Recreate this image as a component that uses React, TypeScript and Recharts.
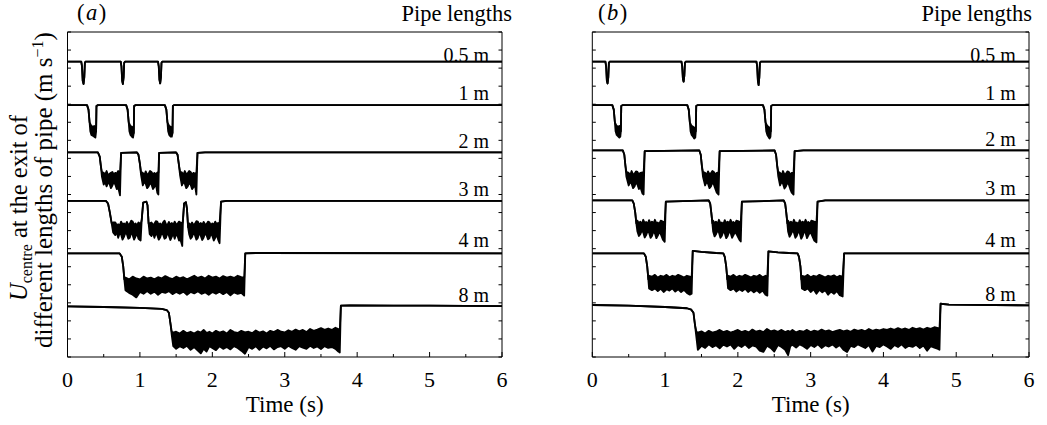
import React from 'react';
import { ComposedChart, Area, XAxis, YAxis, ReferenceDot } from 'recharts';

// [time (s), low, high] — high omitted where the trace is a thin line
type Pt = [number, number, number?];

const xTicks = [0, 0.5, 1, 1.5, 2, 2.5, 3, 3.5, 4, 4.5, 5, 5.5, 6];
const yTicks = [0, 1, 2, 3, 4, 5, 6, 7, 8, 9, 10, 11, 12, 13, 14, 15, 16, 17, 18];
const pipeNames = ['0.5 m', '1 m', '2 m', '3 m', '4 m', '8 m'];

// ---- panel (a)
const a05: Pt[] = [
  [0, 16.36], [0.19, 16.36], [0.2, 16.1], [0.21, 15.3], [0.222, 15.12], [0.232, 15.5], [0.24, 16.3], [0.25, 16.36],
  [0.735, 16.36], [0.745, 16.1], [0.755, 15.3], [0.765, 15.12], [0.775, 15.5], [0.783, 16.3], [0.795, 16.36],
  [1.25, 16.36], [1.26, 16.1], [1.27, 15.35], [1.28, 15.15], [1.29, 15.5], [1.298, 16.3], [1.31, 16.36],
  [6, 16.36],
];
const a1: Pt[] = [
  [0, 13.95], [0.27, 13.95], [0.29, 13.7], [0.305, 13.0], [0.315, 12.5, 12.9], [0.33, 12.3, 12.8], [0.35, 12.25, 12.75],
  [0.37, 12.2, 12.8], [0.385, 12.15, 12.7], [0.395, 12.5], [0.4, 13.9], [0.42, 13.95],
  [0.81, 13.95], [0.83, 13.7], [0.845, 13.0], [0.855, 12.5, 12.9], [0.87, 12.3, 12.8], [0.89, 12.2, 12.75],
  [0.905, 12.15, 12.7], [0.915, 12.4], [0.92, 13.9], [0.94, 13.95],
  [1.345, 13.95], [1.365, 13.7], [1.38, 13.0], [1.39, 12.5, 12.9], [1.405, 12.3, 12.8], [1.425, 12.2, 12.75],
  [1.44, 12.2, 12.7], [1.45, 12.4], [1.455, 13.9], [1.47, 13.95],
  [6, 13.95],
];
const a2: Pt[] = [
  [0, 11.33], [0.42, 11.33], [0.445, 11.1], [0.46, 10.6], [0.475, 10.0, 10.25],
  [0.5, 9.55, 10.2], [0.52, 9.7, 10.1], [0.54, 9.45, 10.3], [0.56, 9.65, 10.05], [0.58, 9.6, 10.15], [0.6, 9.35, 10.2],
  [0.62, 9.5, 10.25], [0.64, 9.7, 10.1], [0.66, 9.55, 10.2], [0.68, 9.3, 10.15], [0.7, 9.4, 10.3], [0.725, 8.95, 10.2],
  [0.74, 11.3], [0.96, 11.33], [0.98, 11.2], [1.0, 10.7], [1.015, 10.1, 10.25],
  [1.04, 9.5, 10.2], [1.06, 9.7, 10.05], [1.08, 9.6, 10.28], [1.1, 9.35, 10.1], [1.12, 9.45, 10.15], [1.14, 9.65, 10.3],
  [1.16, 9.55, 10.25], [1.18, 9.3, 10.1], [1.2, 9.42, 10.2], [1.22, 9.6, 10.12], [1.24, 9.1, 10.22], [1.255, 9.0, 10.2],
  [1.265, 11.3], [1.5, 11.33], [1.52, 11.2], [1.54, 10.6], [1.555, 10.05, 10.25],
  [1.58, 9.5, 10.22], [1.6, 9.68, 10.08], [1.62, 9.6, 10.3], [1.64, 9.35, 10.12], [1.66, 9.45, 10.18], [1.68, 9.65, 10.3],
  [1.7, 9.55, 10.25], [1.72, 9.3, 10.1], [1.74, 9.4, 10.2], [1.76, 9.55, 10.14], [1.78, 9.0, 10.22],
  [1.795, 11.3], [1.9, 11.33], [6, 11.33],
];
const a3: Pt[] = [
  [0, 8.65], [0.53, 8.65], [0.56, 8.5], [0.585, 8.0], [0.61, 7.4], [0.63, 6.9, 7.45],
  [0.66, 6.75, 7.45], [0.68, 6.95, 7.3], [0.7, 6.6, 7.35], [0.72, 6.85, 7.25], [0.74, 6.78, 7.5], [0.76, 6.5, 7.35],
  [0.78, 6.65, 7.4], [0.8, 6.9, 7.3], [0.82, 6.8, 7.48], [0.84, 6.55, 7.32], [0.86, 6.6, 7.38], [0.88, 6.92, 7.55],
  [0.9, 6.75, 7.5], [0.92, 6.5, 7.3], [0.94, 6.68, 7.4], [0.96, 6.85, 7.28], [0.98, 6.55, 7.45], [1.01, 6.45, 7.35],
  [1.025, 7.6], [1.045, 8.55], [1.09, 8.6], [1.105, 8.4], [1.12, 7.4], [1.135, 6.8, 7.4],
  [1.16, 6.7, 7.45], [1.18, 6.9, 7.3], [1.2, 6.6, 7.38], [1.22, 6.85, 7.52], [1.24, 6.75, 7.5], [1.26, 6.5, 7.3],
  [1.28, 6.62, 7.4], [1.3, 6.88, 7.28], [1.32, 6.78, 7.46], [1.34, 6.55, 7.55], [1.36, 6.6, 7.36], [1.38, 6.9, 7.3],
  [1.4, 6.72, 7.48], [1.42, 6.48, 7.33], [1.44, 6.65, 7.42], [1.46, 6.85, 7.3], [1.48, 6.55, 7.5], [1.5, 6.8, 7.35],
  [1.52, 6.7, 7.38], [1.54, 6.45, 7.5], [1.56, 6.5, 7.45], [1.585, 6.15, 7.4],
  [1.595, 7.6], [1.61, 8.5], [1.635, 8.58], [1.65, 8.2], [1.665, 7.2], [1.68, 6.8, 7.4],
  [1.7, 6.55, 7.3], [1.72, 6.65, 7.45], [1.74, 6.88, 7.3], [1.76, 6.75, 7.38], [1.78, 6.5, 7.52], [1.8, 6.6, 7.5],
  [1.82, 6.9, 7.32], [1.84, 6.72, 7.42], [1.86, 6.48, 7.3], [1.88, 6.62, 7.48], [1.9, 6.85, 7.35], [1.92, 6.75, 7.36],
  [1.94, 6.52, 7.5], [1.96, 6.58, 7.46], [1.98, 6.86, 7.3], [2.0, 6.7, 7.4], [2.02, 6.45, 7.32], [2.04, 6.6, 7.5],
  [2.06, 6.8, 7.35], [2.08, 6.5, 7.42], [2.1, 6.3, 7.4],
  [2.12, 8.6], [2.2, 8.65], [6, 8.65],
];
const a4: Pt[] = [
  [0, 5.74], [0.72, 5.74], [0.75, 5.55], [0.77, 5.0], [0.785, 4.3], [0.8, 3.7, 4.4],
  [0.85, 3.55, 4.3], [0.9, 3.45, 4.45], [0.95, 3.3, 4.35], [1.0, 3.6, 4.3], [1.05, 3.5, 4.45], [1.1, 3.65, 4.35],
  [1.15, 3.5, 4.4], [1.2, 3.62, 4.3], [1.25, 3.45, 4.42], [1.3, 3.6, 4.35], [1.35, 3.55, 4.48], [1.4, 3.65, 4.38],
  [1.45, 3.48, 4.32], [1.5, 3.6, 4.45], [1.55, 3.5, 4.36], [1.6, 3.62, 4.42], [1.65, 3.45, 4.3], [1.7, 3.6, 4.4],
  [1.75, 3.52, 4.5], [1.8, 3.64, 4.38], [1.85, 3.5, 4.45], [1.9, 3.58, 4.35], [1.95, 3.45, 4.5], [2.0, 3.6, 4.4],
  [2.05, 3.5, 4.45], [2.1, 3.62, 4.35], [2.15, 3.48, 4.48], [2.2, 3.6, 4.4], [2.25, 3.42, 4.45], [2.3, 3.58, 4.38],
  [2.35, 3.5, 4.5], [2.4, 3.55, 4.42], [2.44, 3.4, 4.4],
  [2.455, 5.74], [2.6, 5.76], [6, 5.74],
];
const a8: Pt[] = [
  [0, 2.8], [0.5, 2.77], [1.0, 2.72], [1.3, 2.66], [1.37, 2.6], [1.4, 2.45], [1.42, 1.9], [1.44, 1.2, 1.4],
  [1.46, 0.6, 1.35], [1.5, 0.45, 1.4], [1.55, 0.6, 1.3], [1.6, 0.5, 1.45], [1.65, 0.62, 1.32], [1.7, 0.4, 1.4],
  [1.75, 0.55, 1.3], [1.8, 0.35, 1.42], [1.84, 0.2, 1.35], [1.88, 0.45, 1.5], [1.92, 0.3, 1.33], [1.96, 0.6, 1.4],
  [2.0, 0.5, 1.3], [2.05, 0.38, 1.45], [2.1, 0.6, 1.35], [2.15, 0.45, 1.42], [2.2, 0.55, 1.3], [2.25, 0.42, 1.5],
  [2.3, 0.6, 1.38], [2.35, 0.5, 1.33], [2.4, 0.35, 1.45], [2.45, 0.18, 1.36], [2.5, 0.55, 1.4], [2.55, 0.45, 1.32],
  [2.6, 0.6, 1.47], [2.65, 0.4, 1.35], [2.7, 0.58, 1.42], [2.75, 0.48, 1.3], [2.8, 0.62, 1.45], [2.85, 0.42, 1.38],
  [2.9, 0.55, 1.5], [2.95, 0.6, 1.4], [3.0, 0.45, 1.36], [3.05, 0.62, 1.48], [3.1, 0.5, 1.4], [3.15, 0.4, 1.52],
  [3.2, 0.6, 1.42], [3.25, 0.52, 1.5], [3.3, 0.45, 1.38], [3.35, 0.62, 1.55], [3.4, 0.5, 1.45], [3.45, 0.58, 1.52],
  [3.5, 0.44, 1.6], [3.55, 0.6, 1.5], [3.6, 0.5, 1.58], [3.65, 0.55, 1.5], [3.7, 0.45, 1.62], [3.74, 0.3, 1.55],
  [3.76, 0.25, 1.5],
  [3.775, 2.85], [3.9, 2.86], [4.5, 2.84], [5, 2.85], [6, 2.82],
];

// ---- panel (b)
const b05: Pt[] = [
  [0, 16.36], [0.18, 16.36], [0.19, 16.1], [0.2, 15.3], [0.21, 15.15], [0.22, 15.5], [0.228, 16.3], [0.24, 16.36],
  [1.225, 16.36], [1.235, 16.1], [1.245, 15.4], [1.255, 15.25], [1.265, 15.6], [1.273, 16.3], [1.285, 16.36],
  [2.255, 16.36], [2.265, 16.1], [2.275, 15.3], [2.285, 15.06], [2.295, 15.5], [2.303, 16.3], [2.315, 16.36],
  [6, 16.36],
];
const b1: Pt[] = [
  [0, 13.95], [0.275, 13.95], [0.295, 13.7], [0.31, 13.0], [0.32, 12.5, 12.9], [0.335, 12.3, 12.8], [0.355, 12.22, 12.75],
  [0.372, 12.15, 12.8], [0.385, 12.2, 12.7], [0.392, 12.5], [0.398, 13.9], [0.415, 13.95],
  [1.305, 13.95], [1.325, 13.7], [1.34, 13.0], [1.35, 12.5, 12.9], [1.365, 12.3, 12.8], [1.385, 12.2, 12.75],
  [1.4, 12.1, 12.7], [1.415, 12.15, 12.7], [1.422, 12.5], [1.428, 13.9], [1.445, 13.95],
  [2.345, 13.95], [2.365, 13.7], [2.38, 13.0], [2.39, 12.5, 12.9], [2.405, 12.3, 12.8], [2.42, 12.2, 12.75],
  [2.435, 12.1, 12.7], [2.448, 12.2, 12.65], [2.453, 12.5], [2.458, 13.9], [2.475, 13.95],
  [6, 13.95],
];
const b2: Pt[] = [
  [0, 11.44], [0.42, 11.44], [0.44, 11.2], [0.455, 10.6], [0.468, 10.0, 10.25],
  [0.5, 9.5, 10.2], [0.52, 9.7, 10.05], [0.54, 9.6, 10.3], [0.56, 9.35, 10.12], [0.58, 9.45, 10.15], [0.6, 9.68, 10.28],
  [0.62, 9.55, 10.25], [0.64, 9.3, 10.1], [0.66, 9.42, 10.2], [0.69, 9.05, 10.22], [0.705, 9.0, 10.2],
  [0.72, 11.4], [1.47, 11.44], [1.49, 11.2], [1.505, 10.6], [1.52, 10.0, 10.25],
  [1.55, 9.5, 10.2], [1.57, 9.7, 10.08], [1.59, 9.6, 10.28], [1.61, 9.35, 10.12], [1.63, 9.45, 10.18], [1.65, 9.68, 10.3],
  [1.67, 9.55, 10.25], [1.69, 9.32, 10.1], [1.71, 9.1, 10.2], [1.735, 9.0, 10.22],
  [1.75, 11.4], [2.505, 11.44], [2.525, 11.2], [2.54, 10.6], [2.555, 10.0, 10.25],
  [2.58, 9.5, 10.2], [2.6, 9.7, 10.05], [2.62, 9.6, 10.3], [2.64, 9.33, 10.12], [2.66, 9.45, 10.15], [2.68, 9.66, 10.28],
  [2.7, 9.55, 10.25], [2.72, 9.3, 10.1], [2.74, 9.1, 10.2], [2.765, 9.0, 10.2],
  [2.78, 11.4], [2.9, 11.44], [6, 11.44],
];
const b3: Pt[] = [
  [0, 8.67], [0.55, 8.67], [0.57, 8.5], [0.59, 8.0], [0.605, 7.4], [0.62, 6.95, 7.55],
  [0.64, 6.7, 7.4], [0.66, 6.8, 7.5], [0.68, 7.0, 7.35], [0.7, 6.9, 7.6], [0.72, 6.62, 7.42], [0.74, 6.75, 7.48],
  [0.76, 6.98, 7.36], [0.78, 6.88, 7.58], [0.8, 6.6, 7.4], [0.82, 6.7, 7.5], [0.84, 6.95, 7.38], [0.86, 6.85, 7.6],
  [0.88, 6.58, 7.42], [0.9, 6.72, 7.45], [0.92, 6.92, 7.36], [0.94, 6.82, 7.55], [0.97, 6.5, 7.5], [0.995, 6.38, 7.48],
  [1.01, 8.6], [1.6, 8.67], [1.62, 8.5], [1.635, 8.0], [1.65, 7.4], [1.66, 6.95, 7.55],
  [1.68, 6.68, 7.4], [1.7, 6.8, 7.5], [1.72, 7.0, 7.36], [1.74, 6.9, 7.6], [1.76, 6.6, 7.42], [1.78, 6.72, 7.45],
  [1.8, 6.96, 7.35], [1.82, 6.85, 7.58], [1.84, 6.58, 7.4], [1.86, 6.7, 7.5], [1.88, 6.94, 7.38], [1.9, 6.88, 7.6],
  [1.92, 6.6, 7.42], [1.94, 6.75, 7.48], [1.96, 6.92, 7.36], [1.98, 6.82, 7.55], [2.02, 6.5, 7.5], [2.04, 6.4, 7.48],
  [2.055, 8.6], [2.63, 8.67], [2.65, 8.5], [2.665, 8.0], [2.68, 7.4], [2.69, 6.95, 7.55],
  [2.71, 6.66, 7.4], [2.73, 6.8, 7.5], [2.75, 7.0, 7.36], [2.77, 6.9, 7.6], [2.79, 6.6, 7.42], [2.81, 6.72, 7.45],
  [2.83, 6.96, 7.34], [2.85, 6.85, 7.58], [2.87, 6.55, 7.4], [2.89, 6.7, 7.5], [2.91, 6.95, 7.38], [2.93, 6.88, 7.6],
  [2.95, 6.58, 7.42], [2.97, 6.75, 7.48], [2.99, 6.9, 7.35], [3.01, 6.82, 7.55], [3.05, 6.45, 7.5], [3.08, 6.35, 7.48],
  [3.095, 8.6], [3.2, 8.67], [6, 8.67],
];
const b4: Pt[] = [
  [0, 5.74], [0.71, 5.74], [0.735, 5.55], [0.755, 5.0], [0.77, 4.3], [0.78, 3.8, 4.5],
  [0.82, 3.7, 4.45], [0.86, 3.8, 4.55], [0.9, 3.65, 4.4], [0.94, 3.78, 4.5], [0.98, 3.6, 4.45], [1.02, 3.75, 4.55],
  [1.06, 3.68, 4.42], [1.1, 3.8, 4.5], [1.14, 3.62, 4.45], [1.18, 3.75, 4.55], [1.22, 3.6, 4.48], [1.26, 3.72, 4.4],
  [1.3, 3.55, 4.5], [1.34, 3.45, 4.45], [1.365, 3.5, 4.42],
  [1.38, 5.88], [1.5, 5.82], [1.7, 5.76], [1.8, 5.74], [1.82, 5.55], [1.84, 5.0], [1.855, 4.3], [1.865, 3.8, 4.5],
  [1.9, 3.7, 4.45], [1.94, 3.8, 4.55], [1.98, 3.62, 4.42], [2.02, 3.75, 4.5], [2.06, 3.65, 4.45], [2.1, 3.78, 4.55],
  [2.14, 3.6, 4.48], [2.18, 3.72, 4.4], [2.22, 3.58, 4.5], [2.26, 3.7, 4.45], [2.3, 3.55, 4.55], [2.34, 3.68, 4.42],
  [2.38, 3.45, 4.5], [2.405, 3.4, 4.45],
  [2.42, 5.85], [2.55, 5.8], [2.7, 5.76], [2.82, 5.74], [2.84, 5.55], [2.86, 5.0], [2.872, 4.3], [2.88, 3.8, 4.5],
  [2.92, 3.7, 4.45], [2.96, 3.8, 4.55], [3.0, 3.6, 4.42], [3.04, 3.75, 4.5], [3.08, 3.5, 4.45], [3.12, 3.72, 4.55],
  [3.16, 3.58, 4.48], [3.2, 3.7, 4.4], [3.24, 3.45, 4.5], [3.28, 3.62, 4.45], [3.32, 3.5, 4.52], [3.36, 3.65, 4.42],
  [3.4, 3.42, 4.5], [3.44, 3.35, 4.45],
  [3.46, 5.74], [3.6, 5.74], [6, 5.74],
];
const b8: Pt[] = [
  [0, 2.88], [0.5, 2.84], [1.0, 2.77], [1.3, 2.7], [1.36, 2.62], [1.39, 2.45], [1.41, 1.8], [1.43, 1.1, 1.4],
  [1.45, 0.4, 1.35], [1.5, 0.62, 1.42], [1.55, 0.5, 1.3], [1.6, 0.7, 1.45], [1.65, 0.55, 1.35], [1.7, 0.65, 1.4],
  [1.75, 0.48, 1.5], [1.8, 0.68, 1.38], [1.85, 0.58, 1.45], [1.9, 0.7, 1.35], [1.95, 0.45, 1.42], [2.0, 0.66, 1.5],
  [2.05, 0.55, 1.38], [2.1, 0.7, 1.45], [2.15, 0.5, 1.36], [2.2, 0.64, 1.52], [2.25, 0.58, 1.4], [2.3, 0.35, 1.46],
  [2.35, 0.28, 1.38], [2.4, 0.62, 1.55], [2.45, 0.5, 1.42], [2.5, 0.3, 1.48], [2.55, 0.66, 1.4], [2.6, 0.55, 1.5],
  [2.65, 0.4, 1.38], [2.69, 0.1, 1.45], [2.72, 0.6, 1.4], [2.75, 0.68, 1.5], [2.8, 0.52, 1.36], [2.85, 0.7, 1.45],
  [2.9, 0.6, 1.4], [2.95, 0.45, 1.5], [3.0, 0.66, 1.38], [3.05, 0.55, 1.46], [3.1, 0.7, 1.4], [3.15, 0.5, 1.52],
  [3.2, 0.65, 1.42], [3.25, 0.58, 1.48], [3.3, 0.7, 1.38], [3.35, 0.52, 1.45], [3.4, 0.66, 1.5], [3.45, 0.4, 1.42],
  [3.5, 0.28, 1.48], [3.55, 0.62, 1.4], [3.6, 0.55, 1.52], [3.65, 0.7, 1.45], [3.7, 0.6, 1.5], [3.75, 0.5, 1.42],
  [3.8, 0.66, 1.55], [3.85, 0.3, 1.45], [3.9, 0.62, 1.52], [3.95, 0.55, 1.48], [4.0, 0.7, 1.55], [4.05, 0.58, 1.5],
  [4.1, 0.45, 1.58], [4.15, 0.66, 1.5], [4.2, 0.55, 1.6], [4.25, 0.7, 1.52], [4.3, 0.5, 1.58], [4.35, 0.62, 1.5],
  [4.4, 0.56, 1.62], [4.45, 0.68, 1.55], [4.5, 0.5, 1.6], [4.55, 0.64, 1.52], [4.6, 0.35, 1.62], [4.65, 0.6, 1.56],
  [4.7, 0.52, 1.65], [4.75, 0.45, 1.6], [4.77, 0.4, 1.55],
  [4.785, 2.95], [4.9, 2.9], [6, 2.86],
];

const panelA = [a05, a1, a2, a3, a4, a8];
const panelB = [b05, b1, b2, b3, b4, b8];

const FONT = '"Liberation Serif", "Times New Roman", Times, serif';
// how far each pipe-length label sits above its trace (px)
const labelLift = [0, 5, 4, 5, 6, 4];

const rows = (pts: Pt[]) => pts.map(([t, lo, hi]) => ({ t, lo, hi: hi ?? lo }));

const bottomTick = (props: any) => {
  const { x, y, payload } = props;
  const major = Number.isInteger(payload.value);
  return (
    <g>
      <line x1={x} x2={x} y1={y} y2={y - (major ? 5 : 3)} stroke="#000" />
      {major && (
        <text x={x} y={y + 29.5} textAnchor="middle" fontSize={22} style={{ fontFamily: FONT }} fill="#000">
          {payload.value}
        </text>
      )}
    </g>
  );
};
const topTick = (props: any) => {
  const { x, y, payload } = props;
  const major = Number.isInteger(payload.value);
  return <line x1={x} x2={x} y1={y} y2={y + (major ? 5 : 3)} stroke="#000" />;
};
const leftTick = (props: any) => <line x1={props.x} x2={props.x + 3.5} y1={props.y} y2={props.y} stroke="#000" />;
const rightTick = (props: any) => <line x1={props.x} x2={props.x - 3.5} y1={props.y} y2={props.y} stroke="#000" />;

const traceLabel = (text: string, lift: number) => (props: any) => {
  const vb = props.viewBox || {};
  return (
    <text x={vb.x} y={vb.y - lift} textAnchor="end" fontSize={20} style={{ fontFamily: FONT }} fill="#000">
      {text}
    </text>
  );
};

function Panel({ traces, left, width, margin }: { traces: Pt[][]; left: number; width: number; margin: any }) {
  return (
    <div style={{ position: 'absolute', left, top: 0 }}>
      <ComposedChart width={width} height={425} margin={margin}>
        <XAxis xAxisId="x" dataKey="t" type="number" domain={[0, 6]} ticks={xTicks} interval={0}
          tickSize={0} tickMargin={0} tickLine={false} tick={bottomTick} height={30}
          axisLine={{ stroke: '#000' }} allowDataOverflow />
        <XAxis xAxisId="top" orientation="top" type="number" domain={[0, 6]} ticks={xTicks} interval={0}
          tickSize={0} tickMargin={0} tickLine={false} tick={topTick} height={10}
          axisLine={{ stroke: '#000' }} allowDataOverflow />
        <YAxis yAxisId="y" type="number" domain={[0, 18]} ticks={yTicks} interval={0}
          tickSize={0} tickMargin={0} tickLine={false} tick={leftTick} width={30}
          axisLine={{ stroke: '#000' }} allowDataOverflow />
        <YAxis yAxisId="r" orientation="right" type="number" domain={[0, 18]} ticks={yTicks} interval={0}
          tickSize={0} tickMargin={0} tickLine={false} tick={rightTick} width={10}
          axisLine={{ stroke: '#000' }} allowDataOverflow />
        {traces.map((pts, i) => (
          <Area key={pipeNames[i]} xAxisId="x" yAxisId="y" data={rows(pts)}
            dataKey={(r: any) => [r.lo, r.hi]} type="linear" stroke="#000" strokeWidth={1.8}
            strokeLinejoin="round" fill="#000" fillOpacity={1} dot={false} activeDot={false}
            isAnimationActive={false} />
        ))}
        {traces.map((pts, i) => {
          const last = pts[pts.length - 1];
          return (
            <ReferenceDot key={'l' + i} xAxisId="x" yAxisId="y" x={5.82} y={last[2] ?? last[1]} r={0}
              fill="none" stroke="none" ifOverflow="visible" label={traceLabel(pipeNames[i], labelLift[i])} />
          );
        })}
      </ComposedChart>
    </div>
  );
}

export default function App() {
  return (
    <div style={{ position: 'absolute', left: 0, top: 0, width: 1047, height: 425, background: '#fff' }}>
      <Panel traces={panelA} left={0} width={524} margin={{ top: 22, right: 12, bottom: 38, left: 37.5 }} />
      <Panel traces={panelB} left={524} width={523} margin={{ top: 22, right: 8, bottom: 38, left: 38.3 }} />
      <svg width={1047} height={425} style={{ position: 'absolute', left: 0, top: 0, pointerEvents: 'none', fontFamily: FONT }}
        fill="#000">
        <text x={77} y={20} fontSize={22.5} letterSpacing={1.5}>(<tspan fontStyle="italic">a</tspan>)</text>
        <text x={512} y={20.5} fontSize={22.5} textAnchor="end">Pipe lengths</text>
        <text x={598} y={20} fontSize={22.5} letterSpacing={1.5}>(<tspan fontStyle="italic">b</tspan>)</text>
        <text x={1032} y={20.5} fontSize={22.5} textAnchor="end">Pipe lengths</text>
        <text x={284.7} y={412} fontSize={23} textAnchor="middle">Time (s)</text>
        <text x={810.7} y={412} fontSize={23} textAnchor="middle">Time (s)</text>
        <text transform="translate(27,208) rotate(-90)" fontSize={24.5} textAnchor="middle">
          <tspan fontStyle="italic">U</tspan>
          <tspan fontSize={16} dy={5}>centre</tspan>
          <tspan dy={-5}> at the exit of</tspan>
        </text>
        <text transform="translate(52,190) rotate(-90)" fontSize={25} textAnchor="middle">
          different lengths of pipe (m s<tspan fontSize={16} dy={-9}>−1</tspan><tspan dy={9}>)</tspan>
        </text>
      </svg>
    </div>
  );
}
